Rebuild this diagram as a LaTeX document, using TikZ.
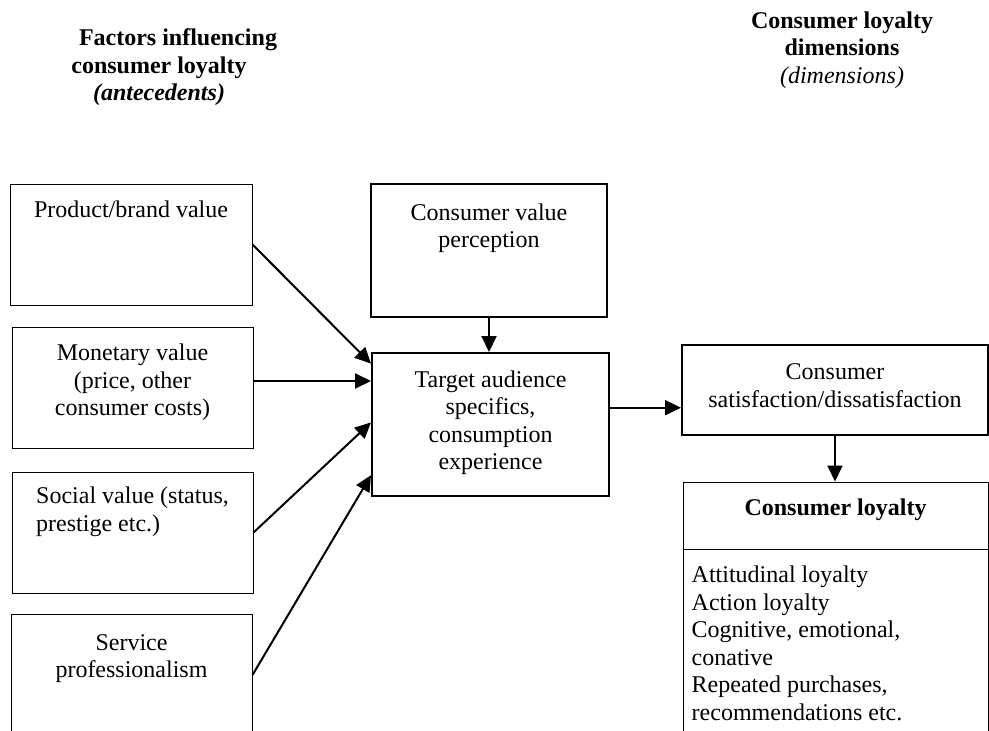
\documentclass[tikz,border=0pt]{standalone}
\usepackage{fontspec}
\setmainfont{Liberation Serif}
\usetikzlibrary{arrows.meta,positioning}

\tikzset{
  thinbox/.style={draw, line width=1pt, inner sep=0pt},
  thickbox/.style={draw, line width=2pt, inner sep=0pt},
  txt/.style={inner sep=0pt, align=center, font=\fontsize{24}{27.5}\selectfont},
  arr/.style={line width=2pt, -{Triangle[length=16pt,width=15pt]}}
}

\begin{document}
\begin{tikzpicture}[x=1pt,y=1pt]
  \useasboundingbox (0,0) rectangle (989,-731);
  \clip (0,0) rectangle (989,-731);

  % headings
  \node[txt, anchor=north] (lefttitle) at (159,-28.5)
    {\hspace*{38pt}\textbf{Factors influencing}\\ \textbf{consumer loyalty}\\ \textbf{\textit{(antecedents)}}};
  \node[txt, anchor=north] (righttitle) at (842,-11.5)
    {\textbf{Consumer loyalty}\\ \textbf{dimensions}\\ \textit{(dimensions)}};

  % antecedents
  \node[thinbox, minimum width=242pt, minimum height=121pt] (prod) at (131,-244.5) {};
  \node[txt, below=17.5pt of prod.north] (prodtxt) {Product/brand value};

  \node[thinbox, minimum width=241pt, minimum height=121pt] (mon) at (132.5,-387.5) {};
  \node[txt, below=17.5pt of mon.north] (montxt) {Monetary value\\ (price, other\\ consumer costs)};

  \node[thinbox, minimum width=241pt, minimum height=121pt] (soc) at (132.5,-532.5) {};
  \node[txt, align=left, below=15.5pt of soc.north] (soctxt) {Social value (status,\\ prestige etc.)};

  \node[thinbox, minimum width=241pt, minimum height=122pt] (serv) at (131.5,-675) {};
  \node[txt, below=20.5pt of serv.north] (servtxt) {Service\\ professionalism};

  % middle
  \node[thickbox, minimum width=236pt, minimum height=133pt] (cvp) at (489,-250.5) {};
  \node[txt, below=20.5pt of cvp.north] (cvptxt) {Consumer value\\ perception};

  \node[thickbox, minimum width=237pt, minimum height=143pt] (target) at (490.5,-424.5) {};
  \node[txt, below=18.5pt of target.north] (targettxt) {Target audience\\ specifics,\\ consumption\\ experience};

  % dimensions
  \node[thickbox, minimum width=306pt, minimum height=90pt] (sat) at (835,-390) {};
  \node[txt, below=19.5pt of sat.north] (sattxt) {Consumer\\ satisfaction/dissatisfaction};

  \node[thinbox, minimum width=305pt, minimum height=67pt] (loyhead) at (835.5,-515.5) {};
  \node[txt, below=17.5pt of loyhead.north] (loyheadtxt) {\textbf{Consumer loyalty}};
  \node[thinbox, minimum width=305pt, minimum height=211pt] (loybody) at (835.5,-654.5) {};
  \node[txt, align=left, below right=17.5pt and 9pt of loybody.north west] (loybodytxt)
    {Attitudinal loyalty\\ Action loyalty\\ Cognitive, emotional,\\ conative\\
     Repeated purchases,\\ recommendations etc.};

  % arrows
  \draw[arr] (prod.east) -- (target.153);
  \draw[arr] (target.160 -| mon.east) -- (target.160);
  \draw[arr] (soc.east) -- (target.179);
  \draw[arr] (serv.east) -- (target.203);
  \draw[arr] (cvp.south) -- (cvp.south |- target.north);
  \draw[arr] (target.8) -- (target.8 -| sat.west);
  \draw[arr] (sat.south) -- (sat.south |- loyhead.north);
\end{tikzpicture}
\end{document}
